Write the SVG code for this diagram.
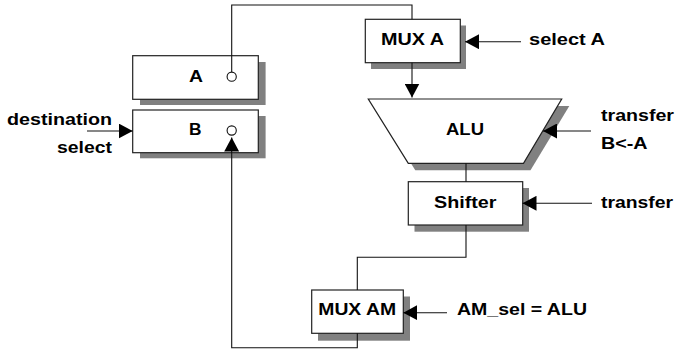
<svg xmlns="http://www.w3.org/2000/svg" width="677" height="350" viewBox="0 0 677 350">
<defs>
<style>
.box{fill:#fff;stroke:#222;stroke-width:1.2}
.sh{fill:#808080;stroke:none}
.wire{fill:none;stroke:#111;stroke-width:1.1}
.arr{fill:none;stroke:#111;stroke-width:1.1;marker-end:url(#ah)}
.pin{fill:#fff;stroke:#111;stroke-width:1.1}
text{font-family:"Liberation Sans",Arial,Helvetica,sans-serif;font-weight:bold;font-size:17px;fill:#000}
</style>
<marker id="ah" markerUnits="userSpaceOnUse" markerWidth="15" markerHeight="15" refX="14" refY="7.5" orient="auto">
<path d="M0,0 L14,7.5 L0,15 z" fill="#000"/>
</marker>
</defs>
<g id="regA">
<rect class="sh" x="140" y="62" width="125.6" height="43"/>
<rect class="box" x="132.7" y="55.7" width="125.6" height="43.6"/>
<text x="189" y="82" textLength="14" lengthAdjust="spacingAndGlyphs">A</text>
</g>
<g id="regB">
<rect class="sh" x="140" y="116" width="125.6" height="42.3"/>
<rect class="box" x="132.7" y="110" width="125.6" height="42.7"/>
<text x="189" y="135" textLength="12.5" lengthAdjust="spacingAndGlyphs">B</text>
</g>
<g id="destsel">
<text x="7" y="124.5" textLength="105" lengthAdjust="spacingAndGlyphs">destination</text>
<text x="57" y="153" textLength="55" lengthAdjust="spacingAndGlyphs">select</text>
</g>
<g id="muxA">
<rect class="sh" x="371" y="25.5" width="95" height="43.5"/>
<rect class="box" x="365.3" y="19.3" width="95" height="43.4"/>
<text x="381" y="45" textLength="63" lengthAdjust="spacingAndGlyphs">MUX A</text>
</g>
<g id="selA">
<text x="529" y="45" textLength="76" lengthAdjust="spacingAndGlyphs">select A</text>
</g>
<g id="alu">
<polygon class="sh" points="375.3,106 569.3,106 530.5,170.3 415.3,170.3"/>
<polygon class="box" points="368.3,99 561.7,99 523.5,163.3 408.3,163.3"/>
<text x="446" y="135" textLength="38" lengthAdjust="spacingAndGlyphs">ALU</text>
</g>
<g id="transferBA">
<text x="601" y="121" textLength="73" lengthAdjust="spacingAndGlyphs">transfer</text>
<text x="601" y="149" textLength="46.5" lengthAdjust="spacingAndGlyphs">B&lt;-A</text>
</g>
<g id="shifter">
<rect class="sh" x="414.5" y="188" width="114.5" height="43.7"/>
<rect class="box" x="408.3" y="181.7" width="114.4" height="43.3"/>
<text x="434" y="208" textLength="62.5" lengthAdjust="spacingAndGlyphs">Shifter</text>
</g>
<g id="transferS">
<text x="601" y="208" textLength="72" lengthAdjust="spacingAndGlyphs">transfer</text>
</g>
<g id="muxAM">
<rect class="sh" x="318" y="296.5" width="92" height="44.2"/>
<rect class="box" x="311.7" y="290" width="91.6" height="43.3"/>
<text x="318.3" y="315" textLength="77.7" lengthAdjust="spacingAndGlyphs">MUX AM</text>
</g>
<g id="amsel">
<text x="457" y="315" textLength="130" lengthAdjust="spacingAndGlyphs">AM_sel = ALU</text>
</g>
<g id="connectors">
<path class="wire" d="M231.7,72 V5 H412 V19.3"/>
<path class="arr" d="M412,62.7 V97.5"/>
<path class="arr" d="M521,41.7 H465"/>
<path class="arr" d="M591,131 H543"/>
<path class="wire" d="M466,163.3 V181.7"/>
<path class="arr" d="M592,203.3 H522.5"/>
<path class="wire" d="M466,225 V257.3 H357.3 V290"/>
<path class="arr" d="M447,312.7 H403.3"/>
<path class="arr" d="M357.3,333.3 V347.7 H231.7 V137.5"/>
<path class="arr" d="M87,131 H132.7"/>
<circle id="pinA" class="pin" cx="231.7" cy="76.7" r="4.6"/>
<circle id="pinB" class="pin" cx="231.7" cy="130.5" r="4.6"/>
</g>
</svg>
